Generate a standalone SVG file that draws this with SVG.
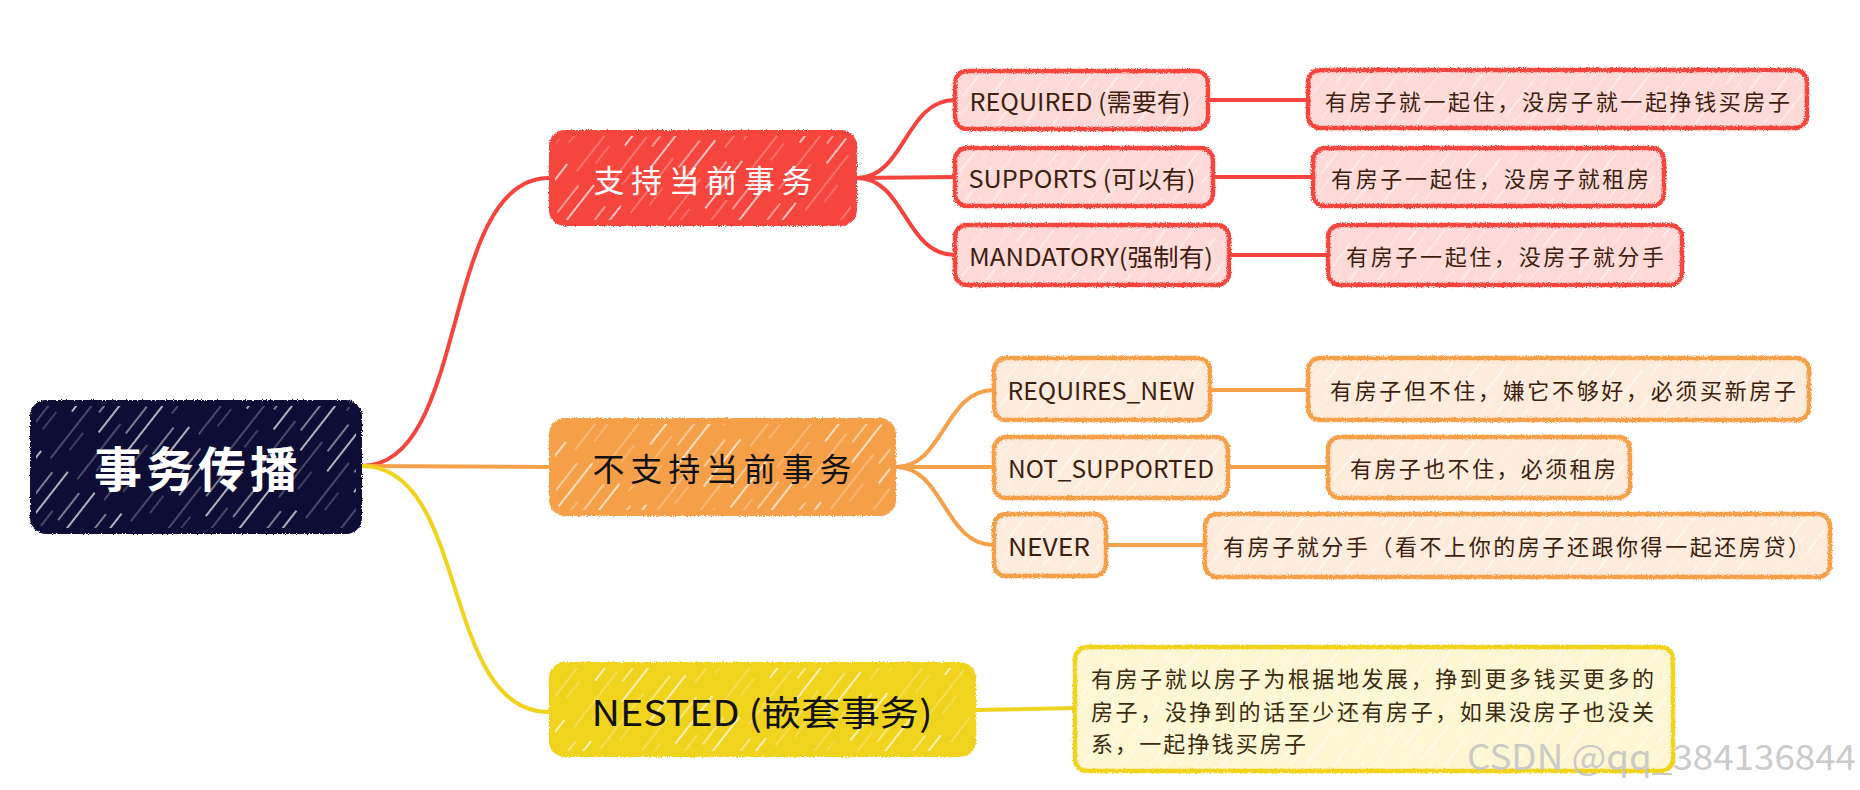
<svg xmlns="http://www.w3.org/2000/svg" width="1860" height="790" viewBox="0 0 1860 790">
<style>
  text { font-family: "Noto Sans CJK SC", "Noto Sans", sans-serif; }
  .conn { fill: none; stroke-width: 4; stroke-linecap: round; }
  .cr { stroke: #f5443e; }
  .co { stroke: #f5a04a; }
  .cy { stroke: #f0d31f; }
  .box { filter: url(#rough); }
  .root-box { fill: #0b0b35; }
  .br-r { fill: #f5443e; }
  .br-o { fill: #f5a04a; }
  .br-y { fill: #f0d31f; }
  .sub-r { fill: #fdd9d7; stroke: #f5443e; stroke-width: 4.5; }
  .sub-o { fill: #fdebdc; stroke: #f5a04a; stroke-width: 4.5; }
  .sub-y { fill: #fdf6d2; stroke: #f0d31f; stroke-width: 4.5; }
  .hw { fill: url(#hatchW); }
  .hl { fill: url(#hatchL); }
  .t-sub { font-size: 24px; fill: #3d1e0f; dominant-baseline: central; text-anchor: middle; }
  .t-leaf { font-size: 22px; fill: #3d1e0f; dominant-baseline: central; }
  .t-leafy { font-size: 22px; fill: #3b2c10; dominant-baseline: central; }
</style>
<defs>
  <filter id="rough" x="-3%" y="-8%" width="106%" height="116%">
    <feTurbulence type="fractalNoise" baseFrequency="0.8" numOctaves="2" seed="4" result="n"/>
    <feDisplacementMap in="SourceGraphic" in2="n" scale="3.5" xChannelSelector="R" yChannelSelector="G"/>
  </filter>
  <pattern id="hatchW" patternUnits="userSpaceOnUse" width="34" height="110" patternTransform="rotate(38)">
    <line x1="4" y1="0" x2="4" y2="60" stroke="#fff" stroke-width="1.6" stroke-opacity="0.85"/>
    <line x1="16" y1="40" x2="16" y2="110" stroke="#fff" stroke-width="1" stroke-opacity="0.5"/>
    <line x1="26" y1="10" x2="26" y2="44" stroke="#fff" stroke-width="1.3" stroke-opacity="0.7"/>
    <line x1="26" y1="70" x2="26" y2="92" stroke="#fff" stroke-width="0.9" stroke-opacity="0.45"/>
  </pattern>
  <pattern id="hatchL" patternUnits="userSpaceOnUse" width="22" height="80" patternTransform="rotate(38)">
    <line x1="4" y1="0" x2="4" y2="44" stroke="#fff" stroke-width="1.3" stroke-opacity="0.75"/>
    <line x1="14" y1="30" x2="14" y2="80" stroke="#fff" stroke-width="1" stroke-opacity="0.6"/>
  </pattern>
</defs>
<rect width="1860" height="790" fill="#ffffff"/>

<g id="connectors">
  <path class="conn cr" d="M362,466 C470,466 440,178 549,178"/>
  <path class="conn co" d="M362,466 L549,467"/>
  <path class="conn cy" d="M362,466 C470,466 440,712 549,712"/>
  <path class="conn cr" d="M857,178 C905,178 905,100 955,100"/>
  <path class="conn cr" d="M857,178 L955,177"/>
  <path class="conn cr" d="M857,178 C905,178 905,255 955,255"/>
  <path class="conn cr" d="M1208,100 L1308,100"/>
  <path class="conn cr" d="M1213,177 L1313,177"/>
  <path class="conn cr" d="M1229,255 L1328,255"/>
  <path class="conn co" d="M896,467 C944,467 944,390 994,390"/>
  <path class="conn co" d="M896,467 L994,467"/>
  <path class="conn co" d="M896,467 C944,467 944,545 994,545"/>
  <path class="conn co" d="M1210,390 L1308,390"/>
  <path class="conn co" d="M1228,467 L1328,467"/>
  <path class="conn co" d="M1106,545 L1205,545"/>
  <path class="conn cy" d="M976,710 L1075,708"/>
</g>

<g id="root">
  <rect class="box root-box" x="30" y="400" width="332" height="134" rx="16"/>
  <rect class="hw" x="36" y="406" width="320" height="122" rx="12"/>
  <text x="196" y="466" font-size="48" font-weight="bold" fill="#ffffff" text-anchor="middle" dominant-baseline="central" textLength="204">事务传播</text>
</g>

<g id="branch-support">
  <rect class="box br-r" x="549" y="130" width="308" height="96" rx="16"/>
  <rect class="hw" x="555" y="136" width="296" height="84" rx="12"/>
  <text x="703" y="178" font-size="31" fill="#ffffff" text-anchor="middle" dominant-baseline="central" textLength="219">支持当前事务</text>
</g>

<g id="branch-not-support">
  <rect class="box br-o" x="549" y="418" width="347" height="98" rx="16"/>
  <rect class="hw" x="555" y="424" width="335" height="86" rx="12"/>
  <text x="722" y="467" font-size="32" fill="#111111" text-anchor="middle" dominant-baseline="central" textLength="259">不支持当前事务</text>
</g>

<g id="branch-nested">
  <rect class="box br-y" x="549" y="662" width="427" height="95" rx="16"/>
  <rect class="hw" x="555" y="668" width="415" height="83" rx="12"/>
  <text x="762" y="710" font-size="35" fill="#111111" text-anchor="middle" dominant-baseline="central" textLength="341" lengthAdjust="spacingAndGlyphs">NESTED (嵌套事务)</text>
</g>

<g id="required">
  <rect class="box sub-r" x="955" y="71" width="253" height="58" rx="12"/>
  <rect class="hl" x="960" y="76" width="243" height="48" rx="9"/>
  <text class="t-sub" x="1080" y="100" textLength="221" lengthAdjust="spacingAndGlyphs">REQUIRED (需要有)</text>
</g>
<g id="supports">
  <rect class="box sub-r" x="955" y="148" width="258" height="58" rx="12"/>
  <rect class="hl" x="960" y="153" width="248" height="48" rx="9"/>
  <text class="t-sub" x="1082" y="177" textLength="227" lengthAdjust="spacingAndGlyphs">SUPPORTS (可以有)</text>
</g>
<g id="mandatory">
  <rect class="box sub-r" x="955" y="225" width="274" height="60" rx="12"/>
  <rect class="hl" x="960" y="230" width="264" height="50" rx="9"/>
  <text class="t-sub" x="1091" y="255" textLength="244" lengthAdjust="spacingAndGlyphs">MANDATORY(强制有)</text>
</g>
<g id="required-desc">
  <rect class="box sub-r" x="1308" y="70" width="499" height="58" rx="12"/>
  <rect class="hl" x="1313" y="75" width="489" height="48" rx="9"/>
  <text class="t-leaf" x="1325" y="100" textLength="465">有房子就一起住，没房子就一起挣钱买房子</text>
</g>
<g id="supports-desc">
  <rect class="box sub-r" x="1313" y="148" width="351" height="58" rx="12"/>
  <rect class="hl" x="1318" y="153" width="341" height="48" rx="9"/>
  <text class="t-leaf" x="1331" y="177" textLength="318">有房子一起住，没房子就租房</text>
</g>
<g id="mandatory-desc">
  <rect class="box sub-r" x="1328" y="225" width="354" height="60" rx="12"/>
  <rect class="hl" x="1333" y="230" width="344" height="50" rx="9"/>
  <text class="t-leaf" x="1346" y="255" textLength="318">有房子一起住，没房子就分手</text>
</g>

<g id="requires-new">
  <rect class="box sub-o" x="994" y="358" width="216" height="62" rx="12"/>
  <rect class="hl" x="999" y="363" width="206" height="52" rx="9"/>
  <text class="t-sub" x="1101" y="389" textLength="187" lengthAdjust="spacingAndGlyphs">REQUIRES_NEW</text>
</g>
<g id="not-supported">
  <rect class="box sub-o" x="994" y="437" width="234" height="61" rx="12"/>
  <rect class="hl" x="999" y="442" width="224" height="51" rx="9"/>
  <text class="t-sub" x="1111" y="467" textLength="206" lengthAdjust="spacingAndGlyphs">NOT_SUPPORTED</text>
</g>
<g id="never">
  <rect class="box sub-o" x="994" y="514" width="112" height="62" rx="12"/>
  <rect class="hl" x="999" y="519" width="102" height="52" rx="9"/>
  <text class="t-sub" x="1049" y="545" textLength="82" lengthAdjust="spacingAndGlyphs">NEVER</text>
</g>
<g id="requires-new-desc">
  <rect class="box sub-o" x="1308" y="358" width="501" height="62" rx="12"/>
  <rect class="hl" x="1313" y="363" width="491" height="52" rx="9"/>
  <text class="t-leaf" x="1330" y="389" textLength="466">有房子但不住，嫌它不够好，必须买新房子</text>
</g>
<g id="not-supported-desc">
  <rect class="box sub-o" x="1328" y="437" width="302" height="61" rx="12"/>
  <rect class="hl" x="1333" y="442" width="292" height="51" rx="9"/>
  <text class="t-leaf" x="1350" y="467" textLength="266">有房子也不住，必须租房</text>
</g>
<g id="never-desc">
  <rect class="box sub-o" x="1205" y="514" width="625" height="63" rx="12"/>
  <rect class="hl" x="1210" y="519" width="615" height="53" rx="9"/>
  <text class="t-leaf" x="1223" y="545" textLength="587">有房子就分手（看不上你的房子还跟你得一起还房贷）</text>
</g>

<g id="nested-desc">
  <rect class="box sub-y" x="1075" y="647" width="598" height="124" rx="12"/>
  <rect class="hl" x="1080" y="652" width="588" height="114" rx="9"/>
  <text class="t-leafy" x="1091" y="677" textLength="563">有房子就以房子为根据地发展，挣到更多钱买更多的</text>
  <text class="t-leafy" x="1091" y="710" textLength="563">房子，没挣到的话至少还有房子，如果没房子也没关</text>
  <text class="t-leafy" x="1091" y="742" textLength="215">系，一起挣钱买房子</text>
</g>

<text x="1467" y="770" font-family="Liberation Sans, Arial, sans-serif" font-size="35" fill="#c4c4c4" fill-opacity="0.9" textLength="389" lengthAdjust="spacingAndGlyphs">CSDN @qq_384136844</text>
</svg>
